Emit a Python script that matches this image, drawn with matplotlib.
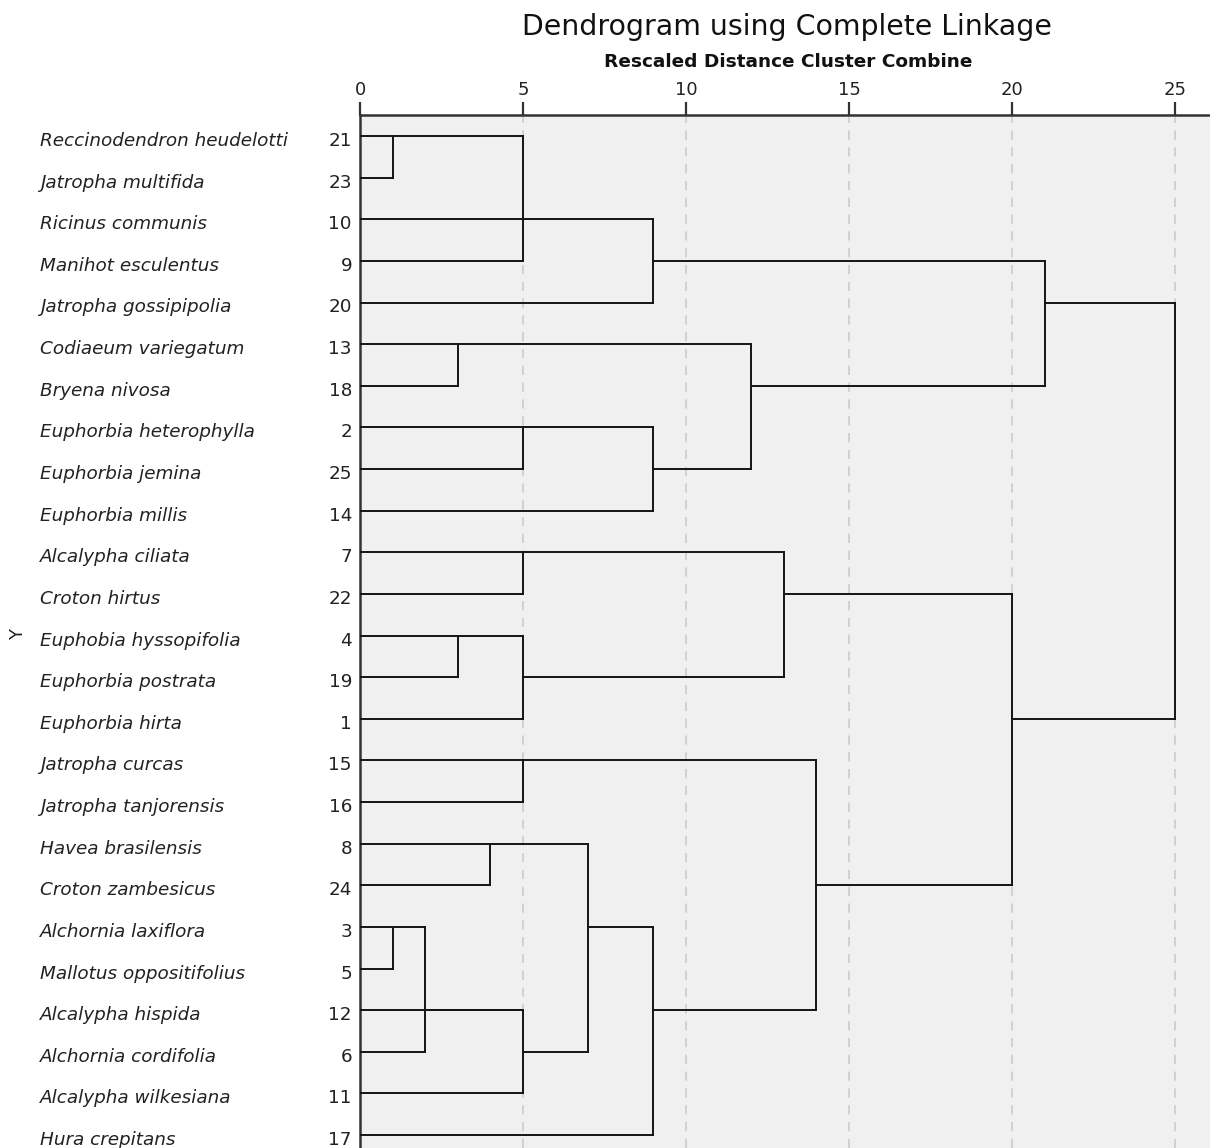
import matplotlib
matplotlib.use("Agg")
import matplotlib.pyplot as plt

# ---------------- data ----------------
species = [
    "Reccinodendron heudelotti", "Jatropha multifida", "Ricinus communis",
    "Manihot esculentus", "Jatropha gossipipolia", "Codiaeum variegatum",
    "Bryena nivosa", "Euphorbia heterophylla", "Euphorbia jemina",
    "Euphorbia millis", "Alcalypha ciliata", "Croton hirtus",
    "Euphobia hyssopifolia", "Euphorbia postrata", "Euphorbia hirta",
    "Jatropha curcas", "Jatropha tanjorensis", "Havea brasilensis",
    "Croton zambesicus", "Alchornia laxiflora", "Mallotus oppositifolius",
    "Alcalypha hispida", "Alchornia cordifolia", "Alcalypha wilkesiana",
    "Hura crepitans",
]
case_ids = [21, 23, 10, 9, 20, 13, 18, 2, 25, 14, 7, 22, 4, 19, 1,
            15, 16, 8, 24, 3, 5, 12, 6, 11, 17]

# merges (SPSS layout): name, rescaled level, children, row where the cluster line leaves
merge_names = ["A", "B", "C", "D", "E", "F", "G", "H", "I", "J", "K", "L",
               "M", "N", "O", "P", "Q", "R", "S", "T", "U", "V"]
merge_levels = [1, 5, 9, 3, 5, 9, 12, 21, 5, 3, 5, 13,
                5, 4, 1, 2, 5, 7, 9, 14, 20, 25]
merge_children = [
    ["c21", "c23"], ["A", "c10", "c9"], ["B", "c20"],
    ["c13", "c18"], ["c2", "c25"], ["E", "c14"], ["D", "F"], ["C", "G"],
    ["c7", "c22"], ["c4", "c19"], ["J", "c1"], ["I", "K"],
    ["c15", "c16"], ["c8", "c24"], ["c3", "c5"], ["O", "c6"],
    ["P", "c12", "c11"], ["N", "Q"], ["R", "c17"], ["M", "S"], ["L", "T"],
    ["H", "U"],
]
merge_out_rows = [1, 3, 4, 6, 8, 9, 7, 5, 11, 13, 14, 12,
                  16, 18, 20, 22, 23, 20, 22, 19, 15, 10]

x_ticks = [0, 5, 10, 15, 20, 25]

# ---------------- figure ----------------
W, H = 1210, 1148
plt.rcParams['font.family'] = ['DejaVu Sans']
fig = plt.figure(figsize=(W / 100, H / 100), dpi=100)

left_px, top_px = 360, 115
unit_px = (1175 - 360) / 25.0
row_px = (1135 - 136) / 24.0
ax = fig.add_axes([left_px / W, 0, 1 - left_px / W, 1 - top_px / H])
ax.set_facecolor('#f0f0f0')
ax.set_xlim(0, (W - left_px) / unit_px)
ax.set_ylim(1 + (H - 136) / row_px, 1 - (136 - top_px) / row_px)

# grid
for t in x_ticks[1:]:
    ax.axvline(t, color='#c8c8c8', lw=1.1, ls=(0, (6, 5)), zorder=1)

# dendrogram lines
line_kw = dict(color='#151515', lw=1.4, solid_capstyle='projecting', zorder=3)
pos = {}
for i, cid in enumerate(case_ids):
    pos["c%d" % cid] = (0.0, i + 1)
for name, lvl, kids, out in zip(merge_names, merge_levels, merge_children, merge_out_rows):
    rows = []
    for k in kids:
        kx, kr = pos[k]
        ax.plot([kx, lvl], [kr, kr], **line_kw)
        rows.append(kr)
    ax.plot([lvl, lvl], [min(rows), max(rows)], **line_kw)
    pos[name] = (lvl, out)

# axes styling
for s in ['right', 'bottom']:
    ax.spines[s].set_visible(False)
ax.spines['top'].set_color('#333333')
ax.spines['top'].set_linewidth(1.8)
ax.spines['left'].set_color('#333333')
ax.spines['left'].set_linewidth(1.8)
ax.xaxis.tick_top()
ax.set_xticks(x_ticks)
ax.set_xticklabels([str(t) for t in x_ticks])
ax.tick_params(axis='x', direction='out', length=9.5, width=1.6, color='#333333',
               labelsize=13, pad=2, labelcolor='#222222')
ax.set_yticks([])

base_off = 10 / row_px   # text baseline sits ~10 px below the row line
ytrans = ax.get_yaxis_transform()
for i, (nm, cid) in enumerate(zip(species, case_ids)):
    ax.text((40 - left_px) / (W - left_px), i + 1 + base_off, nm, transform=ytrans,
            ha='left', va='baseline', fontsize=13.2, style='italic', color='#222222')
    ax.text((352 - left_px) / (W - left_px), i + 1 + base_off, str(cid), transform=ytrans,
            ha='right', va='baseline', fontsize=13.2, color='#222222')

fig.text(18 / W, 1 - 635 / H, 'Y', rotation=90, ha='center', va='center',
         fontsize=13, color='#222222')

fig.text(787 / W, 1 - 35 / H, 'Dendrogram using Complete Linkage', ha='center', va='baseline',
         fontsize=20.4, color='#111111')
fig.text(788 / W, 1 - 67 / H, 'Rescaled Distance Cluster Combine', ha='center', va='baseline',
         fontsize=13.3, fontweight='bold', color='#111111')

fig.savefig('out.png', dpi=100)
